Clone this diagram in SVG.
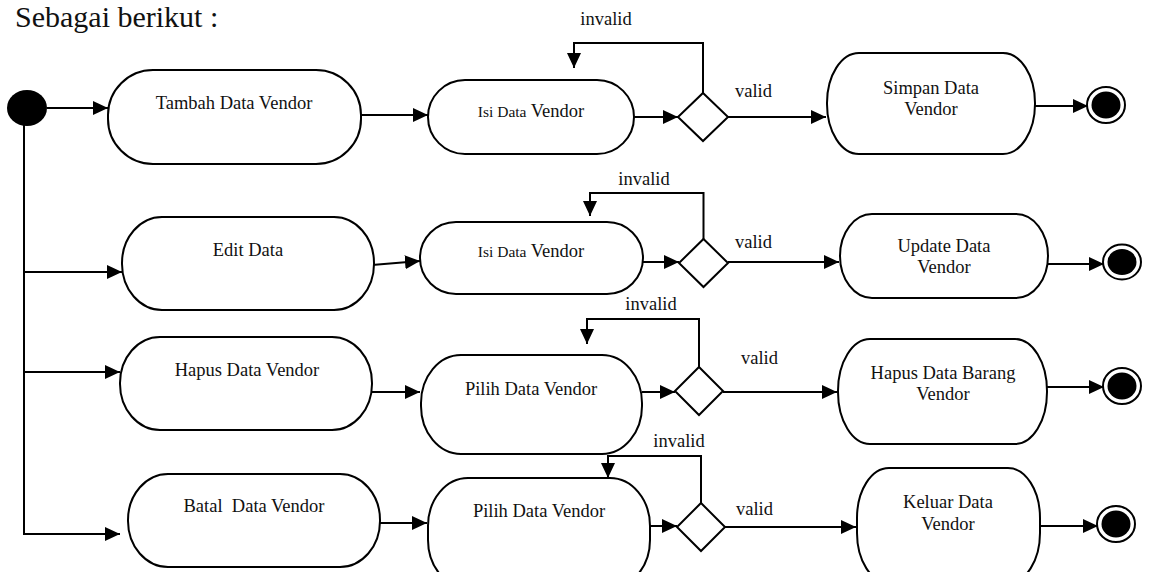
<svg xmlns="http://www.w3.org/2000/svg" width="1149" height="572" viewBox="0 0 1149 572">
<style>
text{font-family:"Liberation Serif","Times New Roman",serif;fill:#111;white-space:pre}
.n{font-size:18.5px;text-anchor:middle}
.s{font-size:15.5px}
.l{font-size:18.5px}
.t{font-size:30px}
.box{fill:#fff;stroke:#000;stroke-width:2}
.c{fill:none;stroke:#000;stroke-width:2}
.a{marker-end:url(#ah)}
</style>
<defs>
<marker id="ah" markerUnits="userSpaceOnUse" markerWidth="16" markerHeight="14" refX="15" refY="7" orient="auto">
<path d="M0,0 L15,7 L0,14 z" fill="#000"/>
</marker>
</defs>
<rect width="1149" height="572" fill="#fff"/>
<text class="t" x="15" y="27">Sebagai berikut :</text>

<g id="start"><ellipse cx="27" cy="108" rx="20" ry="18" fill="#000"/></g>

<g id="connectors">
<path class="c a" d="M47,108 H108"/>
<path class="c a" d="M24,124 V534 H120"/>
<path class="c a" d="M24,272 H122"/>
<path class="c a" d="M24,372 H120"/>
<!-- row 1 -->
<path class="c a" d="M361,115 H428"/>
<path class="c a" d="M634,117 H678"/>
<path class="c a" d="M703,93 V43 H574 V68"/>
<path class="c a" d="M728,117 H826"/>
<path class="c a" d="M1034,106 H1088"/>
<!-- row 2 -->
<path class="c a" d="M372,265 L420,261"/>
<path class="c a" d="M643,262 H679"/>
<path class="c a" d="M703.5,239 V193 H590 V216"/>
<path class="c a" d="M728,262 H839"/>
<path class="c a" d="M1047,264 H1104"/>
<!-- row 3 -->
<path class="c a" d="M372,392 H420"/>
<path class="c a" d="M642,392 H675"/>
<path class="c a" d="M699,367 V319 H587 V344"/>
<path class="c a" d="M723,392 H837"/>
<path class="c a" d="M1046,387 H1104"/>
<!-- row 4 -->
<path class="c a" d="M380,523 H427"/>
<path class="c a" d="M648,526 H677"/>
<path class="c a" d="M701,503 V456 H608 V478"/>
<path class="c a" d="M725,527 H856"/>
<path class="c a" d="M1040,526 H1098"/>
</g>

<g id="labels">
<text class="l" x="606" y="25" text-anchor="middle">invalid</text>
<text class="l" x="735" y="97">valid</text>
<text class="l" x="644" y="185" text-anchor="middle">invalid</text>
<text class="l" x="735" y="248">valid</text>
<text class="l" x="651" y="310" text-anchor="middle">invalid</text>
<text class="l" x="741" y="364">valid</text>
<text class="l" x="679" y="447" text-anchor="middle">invalid</text>
<text class="l" x="736" y="515">valid</text>
</g>

<g id="tambah"><rect class="box" x="108" y="70" width="253" height="94" rx="45" ry="45"/><text class="n" x="234" y="109">Tambah Data Vendor</text></g>
<g id="isi1"><rect class="box" x="428" y="80" width="206" height="74" rx="37" ry="37"/><text class="n" x="531" y="117"><tspan class="s">Isi Data</tspan> Vendor</text></g>
<g id="dec1"><polygon class="box" points="703,93 728,117 703,141 678,117"/></g>
<g id="simpan"><rect class="box" x="827" y="53" width="208" height="101" rx="32" ry="50"/><text class="n" x="931" y="94">Simpan Data</text><text class="n" x="931" y="115">Vendor</text></g>
<g id="end1"><ellipse cx="1106" cy="105" rx="19" ry="18" fill="#fff" stroke="#000" stroke-width="2"/><ellipse cx="1106" cy="105" rx="14.5" ry="13.5" fill="#000"/></g>

<g id="edit"><rect class="box" x="122" y="217" width="252" height="93" rx="40" ry="46"/><text class="n" x="248" y="256">Edit Data</text></g>
<g id="isi2"><rect class="box" x="420" y="222" width="223" height="72" rx="36" ry="36"/><text class="n" x="531" y="257"><tspan class="s">Isi Data</tspan> Vendor</text></g>
<g id="dec2"><polygon class="box" points="703.5,239 728,263 703.5,287 679,263"/></g>
<g id="update"><rect class="box" x="840" y="214" width="208" height="84" rx="32" ry="42"/><text class="n" x="944" y="252">Update Data</text><text class="n" x="944" y="273">Vendor</text></g>
<g id="end2"><ellipse cx="1122" cy="262" rx="19" ry="17.5" fill="#fff" stroke="#000" stroke-width="2"/><ellipse cx="1122" cy="262" rx="14.5" ry="13" fill="#000"/></g>

<g id="hapus"><rect class="box" x="120" y="337" width="252" height="93" rx="40" ry="46"/><text class="n" x="247" y="376">Hapus Data Vendor</text></g>
<g id="pilih1"><rect class="box" x="421" y="355" width="221" height="99" rx="40" ry="48"/><text class="n" x="531" y="395">Pilih Data Vendor</text></g>
<g id="dec3"><polygon class="box" points="699,367 723,391 699,415 675,391"/></g>
<g id="hapusbarang"><rect class="box" x="838" y="339" width="209" height="105" rx="32" ry="52"/><text class="n" x="943" y="379">Hapus Data Barang</text><text class="n" x="943" y="400">Vendor</text></g>
<g id="end3"><ellipse cx="1122" cy="386" rx="19" ry="18" fill="#fff" stroke="#000" stroke-width="2"/><ellipse cx="1122" cy="386" rx="14.5" ry="13.5" fill="#000"/></g>

<g id="batal"><rect class="box" x="128" y="474" width="252" height="93" rx="40" ry="46"/><text class="n" x="254" y="512">Batal  Data Vendor</text></g>
<g id="pilih2"><rect class="box" x="428" y="478" width="222" height="110" rx="40" ry="48"/><text class="n" x="539" y="517">Pilih Data Vendor</text></g>
<g id="dec4"><polygon class="box" points="701,503 725,527 701,551 677,527"/></g>
<g id="keluar"><rect class="box" x="857" y="468" width="183" height="115" rx="32" ry="50"/><text class="n" x="948" y="508">Keluar Data</text><text class="n" x="948" y="530">Vendor</text></g>
<g id="end4"><ellipse cx="1116" cy="524" rx="19" ry="18" fill="#fff" stroke="#000" stroke-width="2"/><ellipse cx="1116" cy="524" rx="14.5" ry="13.5" fill="#000"/></g>
</svg>
